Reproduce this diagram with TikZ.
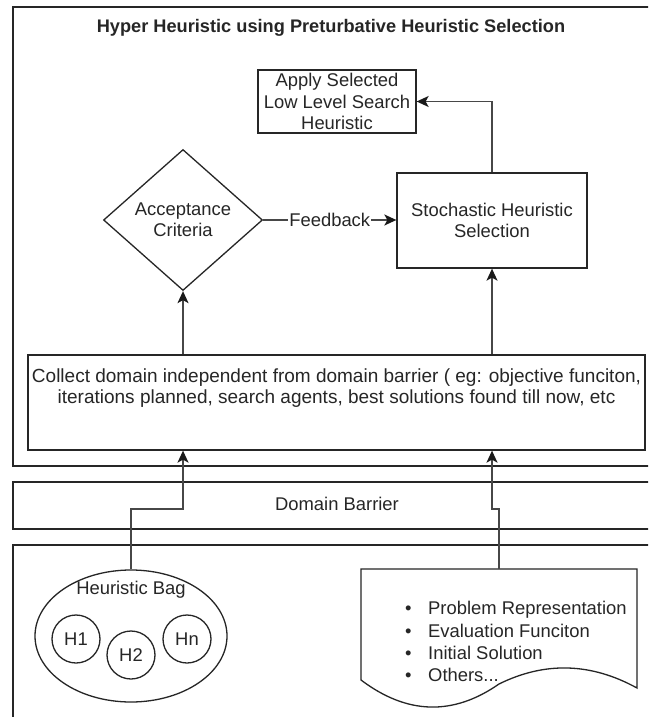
\documentclass[tikz,border=0pt]{standalone}
\usepackage{fontspec}
\setmainfont{Liberation Sans}
\usetikzlibrary{arrows.meta,shapes.geometric}
\begin{document}
\begin{tikzpicture}[x=1pt,y=-1pt,
  every node/.style={font=\fontsize{18.4}{21.5}\selectfont, text=black!85},
  frame/.style={draw=black!85, line width=1.3pt},
  box/.style={frame, rectangle, inner sep=0pt},
  conn/.style={draw=black!72, line width=1.5pt, -{Stealth[length=12pt,width=11pt,inset=3pt,black!90]}},
  hcirc/.style={frame, circle, minimum size=48pt, inner sep=0pt},
  item/.style={anchor=base west, inner sep=0pt},
]
\useasboundingbox (0,0) rectangle (648,717);
\fill[white] (0,0) rectangle (648,717);
\begin{scope}
  \clip (0,0) rectangle (648,717);
  \draw[frame] (13,7) rectangle (660,466);
  \draw[frame] (13,482) rectangle (660,529);
  \draw[frame] (13,545) rectangle (660,740);
\end{scope}

\node[font=\bfseries\fontsize{18.2}{21.5}\selectfont] (title) at (331,28) {Hyper Heuristic using Preturbative Heuristic Selection};
\node (db) at (337,504) {Domain Barrier};

\node[box, minimum width=158pt, minimum height=63pt, align=center] (apply) at (337,101.5) {Apply Selected\\Low Level Search\\Heuristic};
\node[frame, diamond, minimum width=159pt, minimum height=141pt, inner sep=0pt, align=center] (accept) at (183,220) {Acceptance\\Criteria};
\node[box, minimum width=190pt, minimum height=95pt, align=center] (stoch) at (492,220.5) {Stochastic Heuristic\\Selection};

\node[box, minimum width=617pt, minimum height=95pt] (collect) at (336.5,402.5) {};
\node[align=center, inner sep=0pt, font=\fontsize{19}{21.5}\selectfont] (collecttxt) at (336.5,388) {Collect domain independent from domain barrier ( eg: objective funciton,\\iterations planned, search agents, best solutions found till now, etc};

\node[frame, ellipse, minimum width=192pt, minimum height=132pt, inner sep=0pt] (bag) at (131,636) {};
\node (bagtxt) at (131,590) {Heuristic Bag};
\node[hcirc] (h1) at (76,639) {H1};
\node[hcirc] (h2) at (131,655) {H2};
\node[hcirc] (hn) at (187,639) {Hn};

\draw[frame] (361,569) -- (637,569) -- (637,688)
  .. controls (591,662.7) and (545,661.3) .. (499,684)
  .. controls (453,716) and (407,714.7) .. (361,680) -- cycle;
\coordinate (doctop) at (499,569);
\node[item] (it1) at (405,614.5) {\makebox[23pt][l]{•}Problem Representation};
\node[item] (it2) at (405,637) {\makebox[23pt][l]{•}Evaluation Funciton};
\node[item] (it3) at (405,659) {\makebox[23pt][l]{•}Initial Solution};
\node[item] (it4) at (405,681.5) {\makebox[23pt][l]{•}Others...};

\draw[conn] (bag.north) |- (183,509) -- (accept.south |- collect.south);
\draw[conn] (doctop) |- (492,509) -- (stoch.south |- collect.south);
\draw[conn] (accept.south |- collect.north) -- (accept.south);
\draw[conn] (stoch.south |- collect.north) -- (stoch.south);
\draw[conn] (stoch.north) |- (apply.east);
\draw[conn] (accept.east) -- node[fill=white, inner sep=1pt] (fb) {Feedback} (accept.east -| stoch.west);
\end{tikzpicture}
\end{document}
